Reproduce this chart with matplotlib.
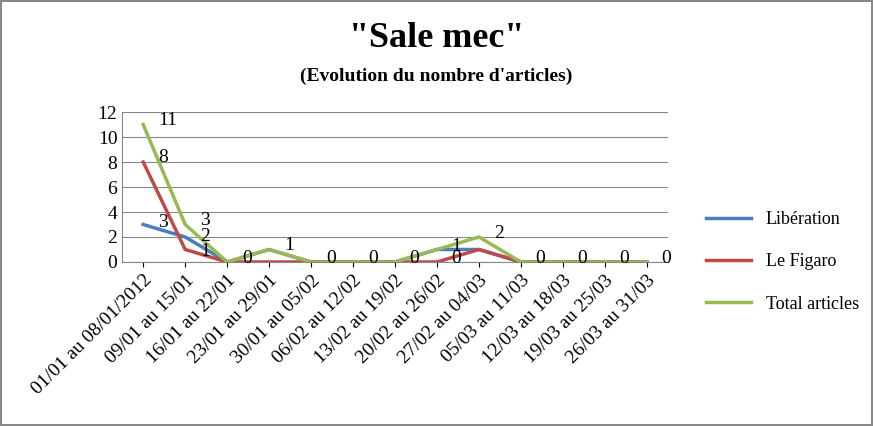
import matplotlib.pyplot as plt

periods = ["01/01 au 08/01/2012", "09/01 au 15/01", "16/01 au 22/01", "23/01 au 29/01",
           "30/01 au 05/02", "06/02 au 12/02", "13/02 au 19/02", "20/02 au 26/02",
           "27/02 au 04/03", "05/03 au 11/03", "12/03 au 18/03", "19/03 au 25/03",
           "26/03 au 31/03"]
liberation = [3, 2, 0, 1, 0, 0, 0, 1, 1, 0, 0, 0, 0]
figaro = [8, 1, 0, 0, 0, 0, 0, 0, 1, 0, 0, 0, 0]
total = [11, 3, 0, 1, 0, 0, 0, 1, 2, 0, 0, 0, 0]

plt.rcParams['font.family'] = ['Liberation Serif', 'DejaVu Serif']
fig = plt.figure(figsize=(8.73, 4.26), dpi=100)
fig.patch.set_edgecolor('#888888')
fig.patch.set_linewidth(1.5)
ax = fig.add_axes([0.14, 0.385, 0.625, 0.352])

x = list(range(len(periods)))
ax.plot(x, liberation, color='#4a7ebb', lw=2.5, label='Libération')
ax.plot(x, figaro, color='#be4b48', lw=2.5, label='Le Figaro')
ax.plot(x, total, color='#98b954', lw=2.5, label='Total articles')

for i, v in enumerate(total):
    if i == 7:
        continue
    ax.text(i + 0.35, v + 0.3, str(v), fontsize=14, va='center')
ax.text(7.35, 0.3, "0", fontsize=14, va='center')
ax.text(7.35, 1.2, "1", fontsize=14, va='center')
ax.text(0.35, figaro[0] + 0.4, "8", fontsize=14, va='center')
ax.text(0.35, liberation[0] + 0.2, "3", fontsize=14, va='center')
ax.text(1.35, 2.0, "2", fontsize=14, va='center')
ax.text(1.35, 0.8, "1", fontsize=14, va='center')

ax.set_xlim(-0.5, len(periods) - 0.5)
ax.set_ylim(0, 12)
ax.set_yticks(range(0, 13, 2))
ax.yaxis.grid(True, color='#888888', lw=0.8)
ax.set_axisbelow(True)
for s in ['top', 'right']:
    ax.spines[s].set_visible(False)
ax.spines['left'].set_color('#888888')
ax.spines['bottom'].set_color('#888888')
ax.tick_params(axis='y', labelsize=14, length=0)
ax.set_xticks(x)
ax.set_xticklabels(periods, rotation=45, ha='right', rotation_mode='anchor', fontsize=14)

fig.text(0.5, 0.89, '"Sale mec"', ha='center', fontsize=26, fontweight='bold')
fig.text(0.5, 0.81, "(Evolution du nombre d'articles)", ha='center', fontsize=14, fontweight='bold')
ax.legend(loc='center left', bbox_to_anchor=(1.04, 0.0), frameon=False, fontsize=13,
          handlelength=2.5, labelspacing=1.4)

fig.savefig('out.png', dpi=100, edgecolor=fig.get_edgecolor())
